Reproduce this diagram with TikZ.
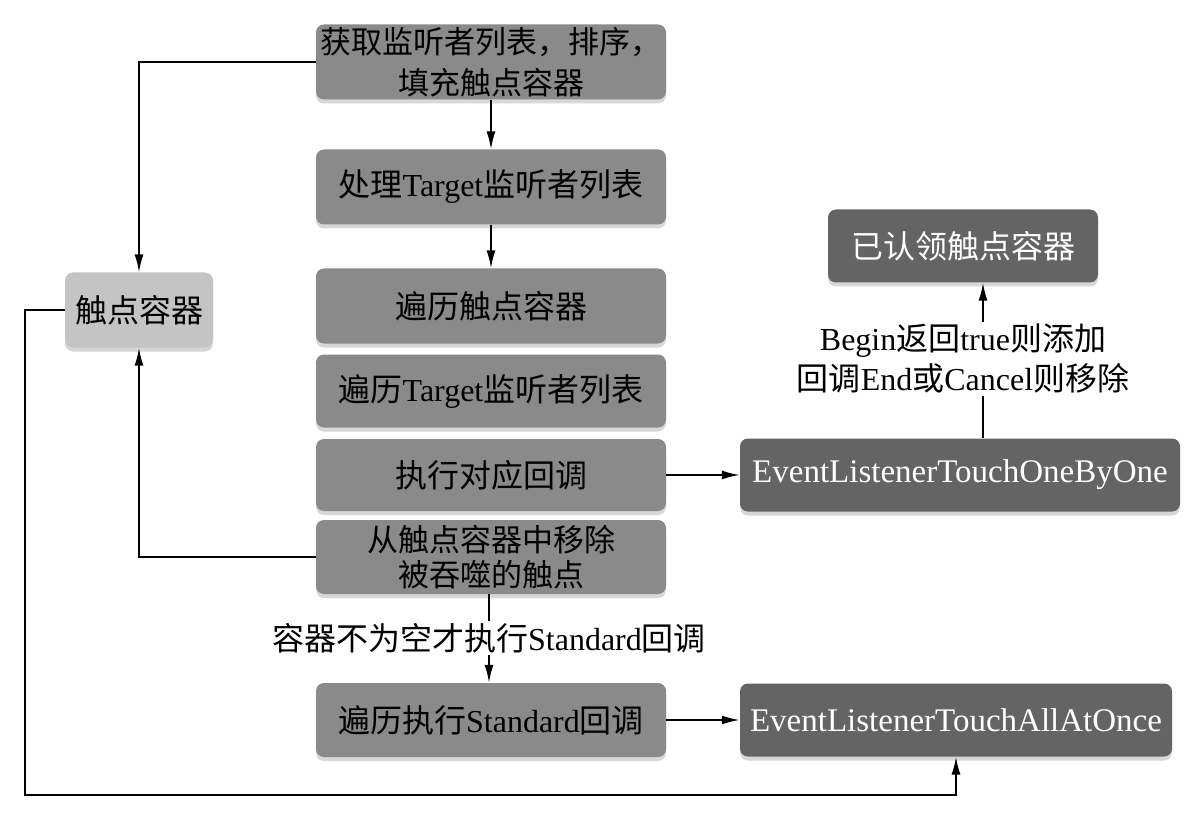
\documentclass[tikz,border=0pt]{standalone}
\usepackage{fontspec}
\setmainfont{Liberation Serif}
\newfontfamily\cjk{Noto Sans CJK SC}
\usetikzlibrary{arrows.meta,shadows}
\definecolor{midgray}{RGB}{138,138,138}
\definecolor{lightgray2}{RGB}{196,196,196}
\definecolor{darkgray2}{RGB}{100,100,100}
\definecolor{shadowgray}{RGB}{215,215,215}
\begin{document}
\begin{tikzpicture}[x=1pt,y=-1pt,
  basebox/.style={rounded corners=8pt, inner sep=0pt, align=center,
    font=\fontsize{32}{40}\selectfont,
    drop shadow={shadow xshift=0pt, shadow yshift=-4pt, fill=shadowgray, opacity=1}},
  midbox/.style={basebox, fill=midgray, text=black, minimum width=350pt, minimum height=75pt},
  lightbox/.style={basebox, fill=lightgray2, text=black, minimum width=148pt, minimum height=75pt},
  darkbox/.style={basebox, fill=darkgray2, text=white, minimum height=73pt},
  lbl/.style={fill=white, inner sep=2pt, align=center, font=\fontsize{32}{40}\selectfont},
  arr/.style={line width=1.8pt, -{Latex[length=18pt,width=9pt]}},
  ln/.style={line width=1.8pt}]
\useasboundingbox[fill=white] (0,0) rectangle (1200,813);

% main column
\node[midbox, font=\fontsize{31}{41}\selectfont] (n1) at (491,62) {{\cjk 获取监听者列表，排序，}\\{\cjk 填充触点容器}};
\node[midbox] (n2) at (491,187) {{\cjk 处理}Target{\cjk 监听者列表}};
\node[midbox] (n3) at (491,306) {{\cjk 遍历触点容器}};
\node[midbox, minimum height=73pt] (n4) at (491,391) {{\cjk 遍历}Target{\cjk 监听者列表}};
\node[midbox, minimum height=72pt] (n5) at (491,475) {{\cjk 执行对应回调}};
\node[midbox, minimum height=74pt, font=\fontsize{31}{35}\selectfont] (n6) at (491,557) {{\cjk 从触点容器中移除}\\{\cjk 被吞噬的触点}};
\node[midbox, minimum height=74pt] (n7) at (491,720) {{\cjk 遍历执行}Standard{\cjk 回调}};

% left
\node[lightbox] (n11) at (139,310) {{\cjk 触点容器}};

% right
\node[darkbox, minimum width=440pt, font=\fontsize{33}{40}\selectfont] (n9) at (960,475) {EventListenerTouchOneByOne};
\node[darkbox, minimum width=432pt, font=\fontsize{33}{40}\selectfont] (n8) at (956,720) {EventListenerTouchAllAtOnce};
\node[darkbox, minimum width=270pt] (n10) at (963,246) {{\cjk 已认领触点容器}};

% coordinates
\coordinate (vx) at (983,0);
\coordinate (mx) at (489,0);
\coordinate (c1) at (25,795);

% connectors
\draw[arr] (n1.west) -| (n11.north);
\draw[arr] (n1.south) -- (n2.north);
\draw[arr] (n2.south) -- (n3.north);
\draw[arr] (n6.west) -| (n11.south);
\draw[arr] (n5.east) -- (n9.west);
\draw[arr] (n7.east) -- (n8.west);
\draw[arr] (n9.north -| vx) -- (n10.south -| vx);
\draw[arr] (n6.south -| mx) -- (n7.north -| mx);
\draw[arr] (n11.west) -| (c1) -| (n8.south);

% labels on connectors
\node[lbl] (l1) at (963,359) {Begin{\cjk 返回}true{\cjk 则添加}\\{\cjk 回调}End{\cjk 或}Cancel{\cjk 则移除}};
\node[lbl] (l2) at (489,638) {{\cjk 容器不为空才执行}Standard{\cjk 回调}};
\end{tikzpicture}
\end{document}
